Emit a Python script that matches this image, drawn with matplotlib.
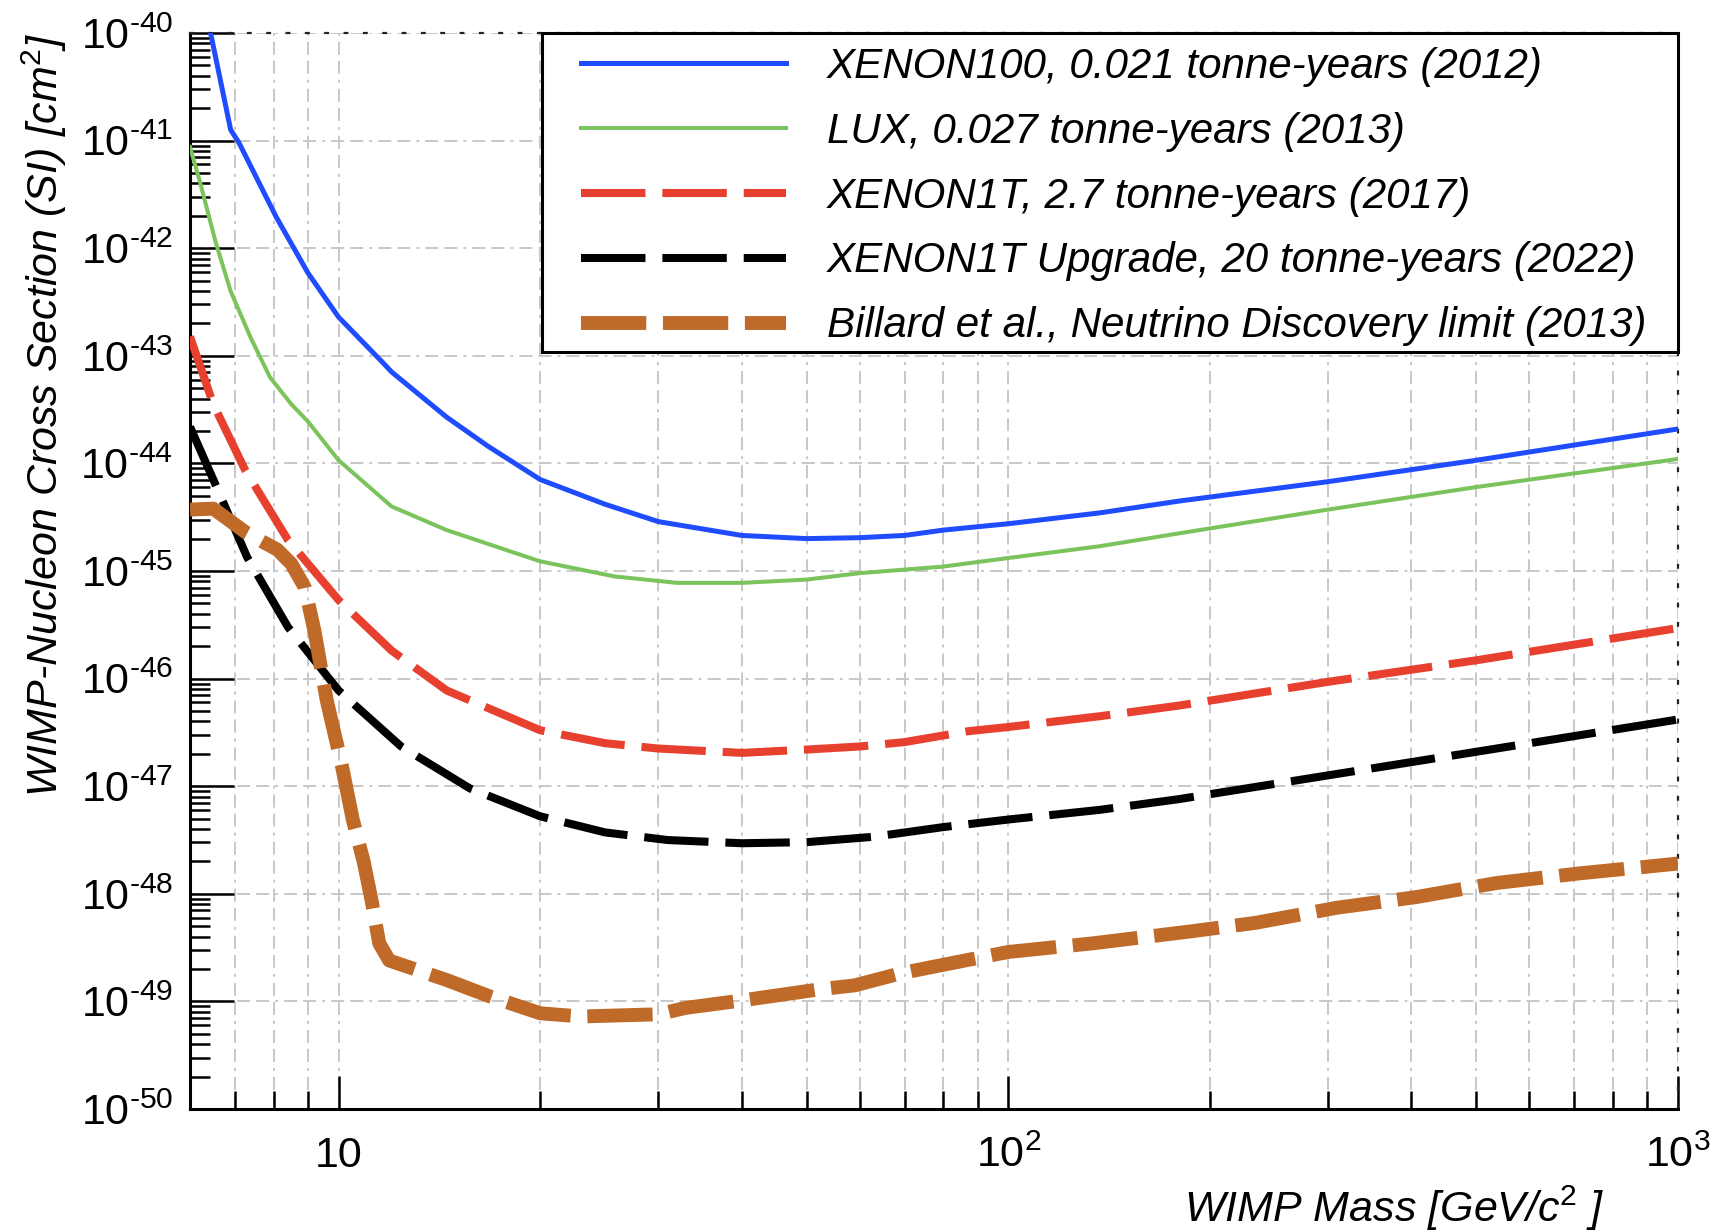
import numpy as np
import matplotlib
matplotlib.use("Agg")
import matplotlib.pyplot as plt
from matplotlib.patches import Rectangle
from matplotlib.ticker import FixedLocator, LogLocator, NullFormatter

plt.rcParams["font.family"] = ["Liberation Sans", "DejaVu Sans"]
plt.rcParams["mathtext.fontset"] = "custom"
plt.rcParams["mathtext.rm"] = "Liberation Sans"
plt.rcParams["mathtext.it"] = "Liberation Sans:italic"
plt.rcParams["mathtext.bf"] = "Liberation Sans:bold"

# ---- limit curves: WIMP mass [GeV/c^2] vs SI cross section [cm^2] ----
mass_xenon100 = [6.3, 6.44, 6.9, 7.1, 8.07, 9.0, 10, 11.67, 12, 14.5, 16.7, 20,
                 25, 30, 40, 50, 60, 70, 80, 100, 137, 180, 300, 500, 1000]
sigma_xenon100 = [1.91e-40, 1.00e-40, 1.26e-41, 9.55e-42, 1.95e-42, 5.89e-43,
                  2.29e-43, 8.51e-44, 7.08e-44, 2.69e-44, 1.45e-44, 7.08e-45,
                  4.17e-45, 2.88e-45, 2.14e-45, 2.00e-45, 2.04e-45, 2.14e-45,
                  2.40e-45, 2.75e-45, 3.47e-45, 4.47e-45, 6.76e-45, 1.07e-44,
                  2.09e-44]

mass_lux = [6.0, 6.2, 6.55, 6.9, 7.4, 7.9, 8.5, 9.0, 10, 12, 14.5, 20, 25.8, 32,
            40, 50, 60, 80, 100, 137, 180, 300, 500, 1000]
sigma_lux = [8.71e-42, 4.27e-42, 1.15e-42, 3.98e-43, 1.45e-43, 6.31e-44,
             3.55e-44, 2.45e-44, 1.07e-44, 3.98e-45, 2.40e-45, 1.23e-45,
             8.91e-46, 7.76e-46, 7.76e-46, 8.32e-46, 9.55e-46, 1.10e-45,
             1.32e-45, 1.70e-45, 2.24e-45, 3.72e-45, 6.03e-45, 1.10e-44]

mass_xenon1t = [6.0, 6.5, 7.25, 8.4, 10, 12, 14.5, 20, 25, 30, 40, 50, 60, 70,
                87, 100, 137, 180, 300, 500, 1000]
sigma_xenon1t = [1.51e-43, 3.55e-44, 8.71e-45, 1.95e-45, 5.37e-46, 1.82e-46,
                 7.76e-47, 3.31e-47, 2.51e-47, 2.24e-47, 2.04e-47, 2.19e-47,
                 2.34e-47, 2.57e-47, 3.24e-47, 3.55e-47, 4.47e-47, 5.62e-47,
                 9.33e-47, 1.48e-46, 2.95e-46]

mass_upgrade = [6.0, 6.5, 7.3, 8.4, 10, 12.4, 15.7, 20, 25, 31, 40, 50, 63, 80,
                100, 137, 180, 300, 500, 1000]
sigma_upgrade = [2.19e-44, 7.08e-45, 1.35e-45, 3.02e-46, 7.76e-47, 2.34e-47,
                 9.55e-48, 5.25e-48, 3.72e-48, 3.16e-48, 2.95e-48, 3.02e-48,
                 3.39e-48, 4.17e-48, 4.90e-48, 6.03e-48, 7.59e-48, 1.26e-47,
                 2.09e-47, 4.17e-47]

mass_neutrino = [6.0, 6.5, 7.3, 8.1, 8.5, 8.9, 9.2, 9.6, 10.1, 10.5, 10.9, 11.2,
                 11.5, 11.9, 14.5, 16.9, 20, 23, 30, 33, 40, 52, 59, 69, 77, 100,
                 134, 187, 234, 309, 407, 536, 714, 1000]
sigma_neutrino = [3.72e-45, 3.80e-45, 2.24e-45, 1.58e-45, 1.17e-45, 7.08e-46,
                  2.82e-46, 6.31e-47, 1.62e-47, 4.90e-48, 2.00e-48, 8.71e-49,
                  3.47e-49, 2.40e-49, 1.58e-49, 1.10e-49, 7.76e-50, 7.24e-50,
                  7.59e-50, 8.71e-50, 1.02e-49, 1.29e-49, 1.41e-49, 1.82e-49,
                  2.09e-49, 2.88e-49, 3.47e-49, 4.47e-49, 5.37e-49, 7.41e-49,
                  9.33e-49, 1.26e-48, 1.55e-48, 1.91e-48]

labels = [
    "XENON100, 0.021 tonne-years (2012)",
    "LUX, 0.027 tonne-years (2013)",
    "XENON1T, 2.7 tonne-years (2017)",
    "XENON1T Upgrade, 20 tonne-years (2022)",
    "Billard et al., Neutrino Discovery limit (2013)",
]

x_major = [10, 100, 1000]
x_major_labels = ["10", "$10^{2}$", "$10^{3}$"]
y_exponents = list(range(-50, -39))

# ---- figure ----
fig = plt.figure(figsize=(17.2, 12.3), dpi=100)
ax = fig.add_axes([190 / 1720, 121 / 1230, 1488 / 1720, 1076 / 1230])
ax.set_xscale("log")
ax.set_yscale("log")
ax.set_xlim(6, 1000)
ax.set_ylim(1e-50, 1e-40)

# grid (drawn under the curves)
ax.set_axisbelow(True)
grid_kw = dict(color="#c8c8c8", linewidth=1.4,
               linestyle=(0, (6.7, 3.1, 6.7, 3.1, 1.5, 3.1)))
ax.grid(True, which="both", axis="x", **grid_kw)
ax.grid(True, which="major", axis="y", **grid_kw)

# curves
ax.plot(mass_xenon100, sigma_xenon100, color="#1f4cff", lw=3.6,
        solid_joinstyle="round", label=labels[0], zorder=3)
ax.plot(mass_lux, sigma_lux, color="#7bc35c", lw=2.9,
        solid_joinstyle="round", label=labels[1], zorder=3)
ax.plot(mass_xenon1t, sigma_xenon1t, color="#e8402f", lw=5.8,
        linestyle=(0, (8.0, 2.1)), dash_joinstyle="round",
        label=labels[2], zorder=3)
ax.plot(mass_upgrade, sigma_upgrade, color="black", lw=5.8,
        linestyle=(0, (8.0, 2.1)), dash_joinstyle="round",
        label=labels[3], zorder=3)
ax.plot(mass_neutrino, sigma_neutrino, color="#bf6a28", lw=10,
        linestyle=(0, (4.7, 1.2)), dash_joinstyle="round",
        label=labels[4], zorder=3)

# ticks
ax.xaxis.set_major_locator(FixedLocator(x_major))
ax.xaxis.set_minor_locator(LogLocator(base=10, subs=np.arange(2, 10), numticks=30))
ax.xaxis.set_minor_formatter(NullFormatter())
ax.set_xticklabels(x_major_labels)
ax.yaxis.set_major_locator(FixedLocator([10.0 ** e for e in y_exponents]))
ax.yaxis.set_minor_locator(LogLocator(base=10, subs=np.arange(2, 10), numticks=40))
ax.yaxis.set_minor_formatter(NullFormatter())
ax.set_yticklabels([f"$10^{{\\text{{{e}}}}}$" for e in y_exponents])

ax.tick_params(axis="both", which="both", direction="in", width=1.8,
               color="black", labelsize=31, top=False, right=False)
ax.tick_params(axis="y", which="major", length=32, pad=12)
ax.tick_params(axis="y", which="minor", length=14.5)
ax.tick_params(axis="x", which="major", length=24, pad=41.8)
ax.tick_params(axis="x", which="minor", length=13)
for lbl in ax.get_xticklabels():
    lbl.set_verticalalignment("baseline")

# frame: solid left/bottom, dotted top/right
for side in ("left", "bottom"):
    ax.spines[side].set_linewidth(2.2)
    ax.spines[side].set_color("black")
for side in ("top", "right"):
    ax.spines[side].set_linewidth(1.6)
    ax.spines[side].set_color("#222222")
    ax.spines[side].set_linestyle((0, (1.2, 7.5)))

# axis titles
ax.set_xlabel("WIMP Mass [GeV/c$^{2}$ ]", fontsize=31, style="italic",
              ha="right", va="baseline")
ax.xaxis.set_label_coords((1604 - 190) / 1488, (1109 - 1222) / 1076)
ax.set_ylabel("WIMP-Nucleon Cross Section (SI) [cm$^{2}$]", fontsize=31,
              style="italic", ha="right", va="center")
ax.yaxis.set_label_coords((44 - 190) / 1488, 1.0)

# legend box
box = Rectangle(((542 - 190) / 1488, (1109 - 352) / 1076),
                1 - (542 - 190) / 1488, 1 - (1109 - 352) / 1076,
                transform=ax.transAxes, facecolor="white", edgecolor="black",
                linewidth=2.2, zorder=4, clip_on=False)
ax.add_patch(box)
leg = ax.legend(loc="upper left", bbox_to_anchor=((581 - 190) / 1488, 0.987),
                frameon=False, borderpad=0, borderaxespad=0,
                handlelength=4.87, handletextpad=0.98, labelspacing=0.59,
                prop={"family": "Liberation Sans", "style": "italic",
                      "size": 30.3})
leg.set_zorder(5)

fig.savefig("out.png", dpi=100, facecolor="white")
